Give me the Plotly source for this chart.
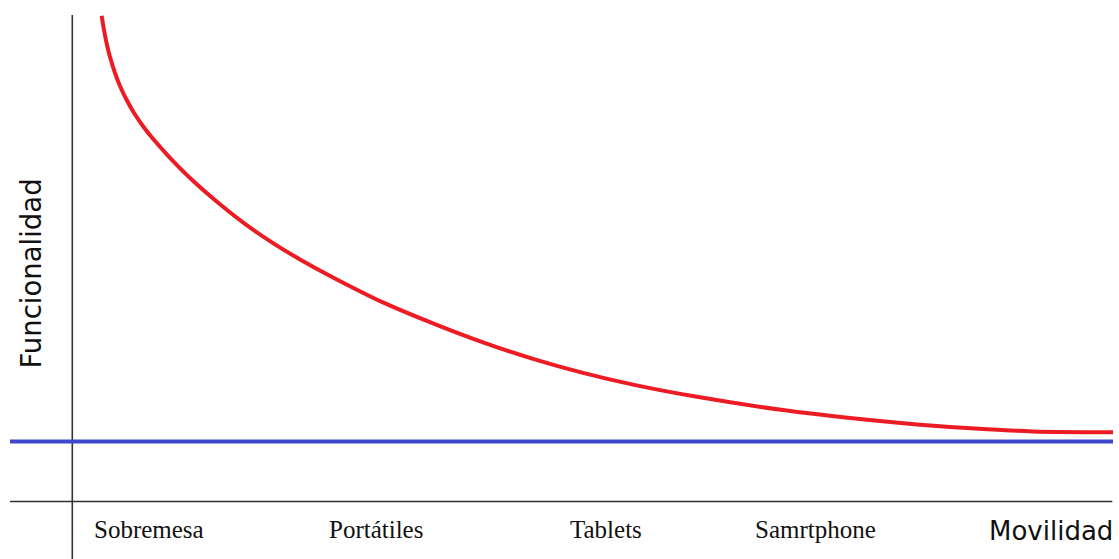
import plotly.graph_objects as go

# Trade-off curve: movilidad (x) vs funcionalidad (y)
movilidad = [29.4, 31.7, 34.7, 37.7, 42.7, 47.7, 54.4, 62.7, 71.7, 80.7, 97.7,
             120.7, 147.7, 174.7, 202.7, 227.7, 260.7, 310.7, 360.7, 410.7,
             460.7, 510.7, 560.7, 624.7, 710.7, 777.7, 844.7, 910.7, 960.7, 1040.7]
funcionalidad = [485.8, 471.5, 456.5, 444.5, 428.5, 415.5, 401.5, 387.0, 374.0,
                 362.7, 343.7, 320.7, 297.2, 276.1, 257.1, 242.1, 224.1, 199.1,
                 178.1, 159.1, 142.6, 128.6, 116.9, 104.7, 91.4, 83.4, 77.0,
                 72.4, 70.1, 69.3]

# Baseline (minimum functionality)
base_x = [-62.3, 1040.7]
base_y = [60, 60]

# Category tick labels along the mobility axis
categorias = ["Sobremesa", "Portátiles", "Tablets", "Samrtphone"]
cat_pos = [77, 304, 534, 743]

x_title = "Movilidad"
y_title = "Funcionalidad"

# axis extents
x_axis_span = [-62.3, 1040]
y_axis_span = [-58, 486.5]

fig = go.Figure()

# axis lines
fig.add_trace(go.Scatter(x=x_axis_span, y=[0, 0], mode="lines",
                         line=dict(color="#333333", width=1.6),
                         hoverinfo="skip", showlegend=False))
fig.add_trace(go.Scatter(x=[0, 0], y=y_axis_span, mode="lines",
                         line=dict(color="#333333", width=1.6),
                         hoverinfo="skip", showlegend=False))

fig.add_trace(go.Scatter(x=base_x, y=base_y, mode="lines",
                         line=dict(color="#3F48CC", width=4),
                         showlegend=False))
fig.add_trace(go.Scatter(x=movilidad, y=funcionalidad, mode="lines",
                         line=dict(color="#ED1C24", width=4, shape="spline", smoothing=1.0),
                         showlegend=False))

for lab, xp in zip(categorias, cat_pos):
    fig.add_annotation(x=xp, y=-27.5, xref="x", yref="y", text=lab, showarrow=False,
                       font=dict(family="Liberation Serif", size=25, color="#111111"),
                       xanchor="center", yanchor="middle")

fig.add_annotation(x=1042.5, y=-29.5, xref="x", yref="y", text=x_title, showarrow=False,
                   font=dict(family="DejaVu Sans", size=26, color="#111111"),
                   xanchor="right", yanchor="middle")
fig.add_annotation(x=-42.3, y=228, xref="x", yref="y", text=y_title, showarrow=False,
                   textangle=-90,
                   font=dict(family="DejaVu Sans", size=27.5, color="#111111"),
                   xanchor="center", yanchor="middle")

fig.update_layout(
    width=1119, height=559,
    margin=dict(l=0, r=0, t=0, b=0),
    paper_bgcolor="white", plot_bgcolor="white",
    xaxis=dict(range=[-72.3, 1046.7], visible=False, fixedrange=True),
    yaxis=dict(range=[-57.5, 501.5], visible=False, fixedrange=True),
)

fig.write_html("out.html", config={"displayModeBar": False},
               post_script="document.body.style.margin='0';document.body.style.overflow='hidden';")
